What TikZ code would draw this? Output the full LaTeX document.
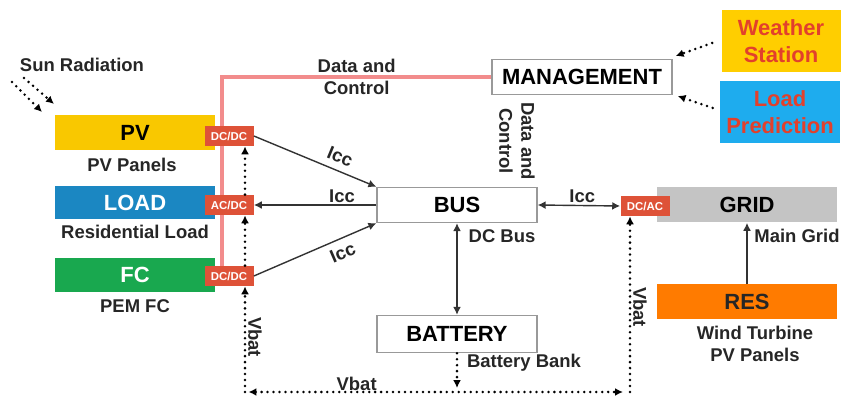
\documentclass[tikz,border=0pt]{standalone}
\usepackage{fontspec}
\setmainfont{Liberation Sans}
\usetikzlibrary{positioning,arrows.meta,calc,backgrounds}
\definecolor{pvyel}{RGB}{249,200,0}
\definecolor{ldblue}{RGB}{27,135,194}
\definecolor{fcgreen}{RGB}{25,168,79}
\definecolor{cvred}{RGB}{222,82,56}
\definecolor{ctlred}{RGB}{242,140,140}
\definecolor{grgray}{RGB}{196,196,196}
\definecolor{resor}{RGB}{255,123,0}
\definecolor{wsyel}{RGB}{255,206,0}
\definecolor{lpblue}{RGB}{30,172,238}
\definecolor{infored}{RGB}{226,64,44}

\begin{document}
\begin{tikzpicture}[x=0.2mm,y=-0.2mm,>={Latex[length=4.5pt,width=4.5pt]},
  unit/.style={minimum width=32mm,minimum height=7mm,inner sep=0pt,font=\bfseries\fontsize{12.5}{15}\selectfont},
  wbox/.style={unit,draw=black!40,fill=white,line width=0.8pt},
  conv/.style={fill=cvred,text=white,minimum width=9.8mm,minimum height=4mm,inner sep=0pt,font=\bfseries\fontsize{6.5}{7}\selectfont},
  info/.style={unit,minimum width=23.8mm,minimum height=12.5mm,align=center,text=infored},
  lbl/.style={font=\bfseries\fontsize{10.5}{12.6}\selectfont,text=black!85,align=center,inner sep=1pt},
  ar/.style={->,line width=0.8pt,draw=black!80},
  vb/.style={line width=1.6pt,dash pattern=on 0pt off 3.4pt,line cap=round},
  ctl/.style={draw=ctlred,line width=1.8pt}]
\useasboundingbox (0,0) rectangle (841,398);
% sources and loads
\node[unit,fill=pvyel] (pv) at (135,133) {PV};
\node[unit,fill=ldblue,text=white,minimum height=6.6mm] (load) at (135,203) {LOAD};
\node[unit,fill=fcgreen,text=white,minimum height=6.8mm] (fc) at (135,275) {FC};
\node[wbox,minimum width=36mm] (mgmt) at (582,77) {MANAGEMENT};
\node[wbox] (bus) at (457,205) {BUS};
\node[wbox,minimum height=7.4mm] (bat) at (457,334) {BATTERY};
\node[unit,fill=grgray,minimum width=36mm] (grid) at (747,205) {GRID};
\node[unit,fill=resor,text=black!85,minimum width=36mm] (res) at (747,302) {RES};
\node[info,fill=wsyel] (ws) at (781,41) {Weather\\Station};
\node[info,fill=lpblue,minimum width=24mm] (lp) at (780,112) {Load\\Prediction};
% converters
\node[conv] (pvc) at (229,136) {DC/DC};
\node[conv] (ldc) at (229,205) {AC/DC};
\node[conv] (fcc) at (229,276) {DC/DC};
\node[conv] (gcv) at (645,206) {DC/AC};
% captions
\node[lbl] (sunlbl) at (82,65) {Sun Radiation};
\node[lbl] (pvlbl) at (132,165) {PV Panels};
\node[lbl] (ldlbl) at (135,232) {Residential Load};
\node[lbl] (fclbl) at (135,306) {PEM FC};
\node[lbl] (buslbl) at (502,236) {DC Bus};
\node[lbl] (batlbl) at (524,363) {Battery Bank};
\node[lbl] (grlbl) at (797,236) {Main Grid};
\node[lbl] (reslbl) at (755,344) {Wind Turbine\\PV Panels};
% data and control
\begin{scope}[on background layer]
\draw[ctl] (mgmt.west) -| ($(fcc.center)+(-7,0)$) node[lbl,pos=0.25,text=black!85]{Data and\\Control};
\draw[ctl] ($(bus.north)+(60,0)$) -- ($(bus.north)+(60,0)$ |- mgmt.south);
\draw[ctl] ($(gcv.north)+(7,0)$) -- ($(gcv.north)+(7,0)$ |- mgmt.south);
\end{scope}
\node[lbl,rotate=-90] (dclbl) at (517,141) {Data and\\Control};
% power flows
\draw[ar] (pvc.east) -- node[lbl,sloped,above=3pt,pos=0.66]{Icc} (bus.north west);
\draw[ar] (bus.west) -- node[lbl,above,pos=0.28]{Icc} (ldc.east);
\draw[ar] (fcc.east) -- node[lbl,sloped,below=3pt,pos=0.68]{Icc} (bus.south west);
\draw[ar,<->] (bus.east) -- node[lbl,above,pos=0.54]{Icc} (gcv.west);
\draw[ar,<->] (bus.south) -- (bat.north);
\draw[ar] (res.north) -- (grid.south);
% battery voltage
\coordinate (vbl) at (245,392);
\coordinate (vbr) at (630,392);
\draw[vb,->] (vbl) -- (vbl |- fcc.south);
\draw[vb,->] (vbl |- fcc.north) -- (vbl |- ldc.south);
\draw[vb,->] (vbl |- ldc.north) -- (vbl |- pvc.south);
\draw[vb,->] (vbr) -- (vbr |- gcv.south);
\draw[vb,<->,shorten <=2pt,shorten >=4pt] (vbl) -- node[lbl,above=-1pt,pos=0.29]{Vbat} (vbr);
\draw[vb,->] (bat.south) -- ($(bat.south |- vbl)+(0,-4)$);
\node[lbl,rotate=-90] (vbllbl) at (255,337) {Vbat};
\node[lbl,rotate=-90] (vbrlbl) at (640,307) {Vbat};
% outside inputs
\coordinate (sunA) at (12,82);
\coordinate (sunB) at (24,78);
\draw[vb,->] (sunA) -- (42,112);
\draw[vb,->] (sunB) -- (54,104);
\draw[vb,->] ($(ws.west)+(-9,2)$) -- ($(mgmt.east)+(3,-21)$);
\draw[vb,->] ($(lp.west)+(-7,-4)$) -- ($(mgmt.east)+(5,19)$);
\end{tikzpicture}
\end{document}
